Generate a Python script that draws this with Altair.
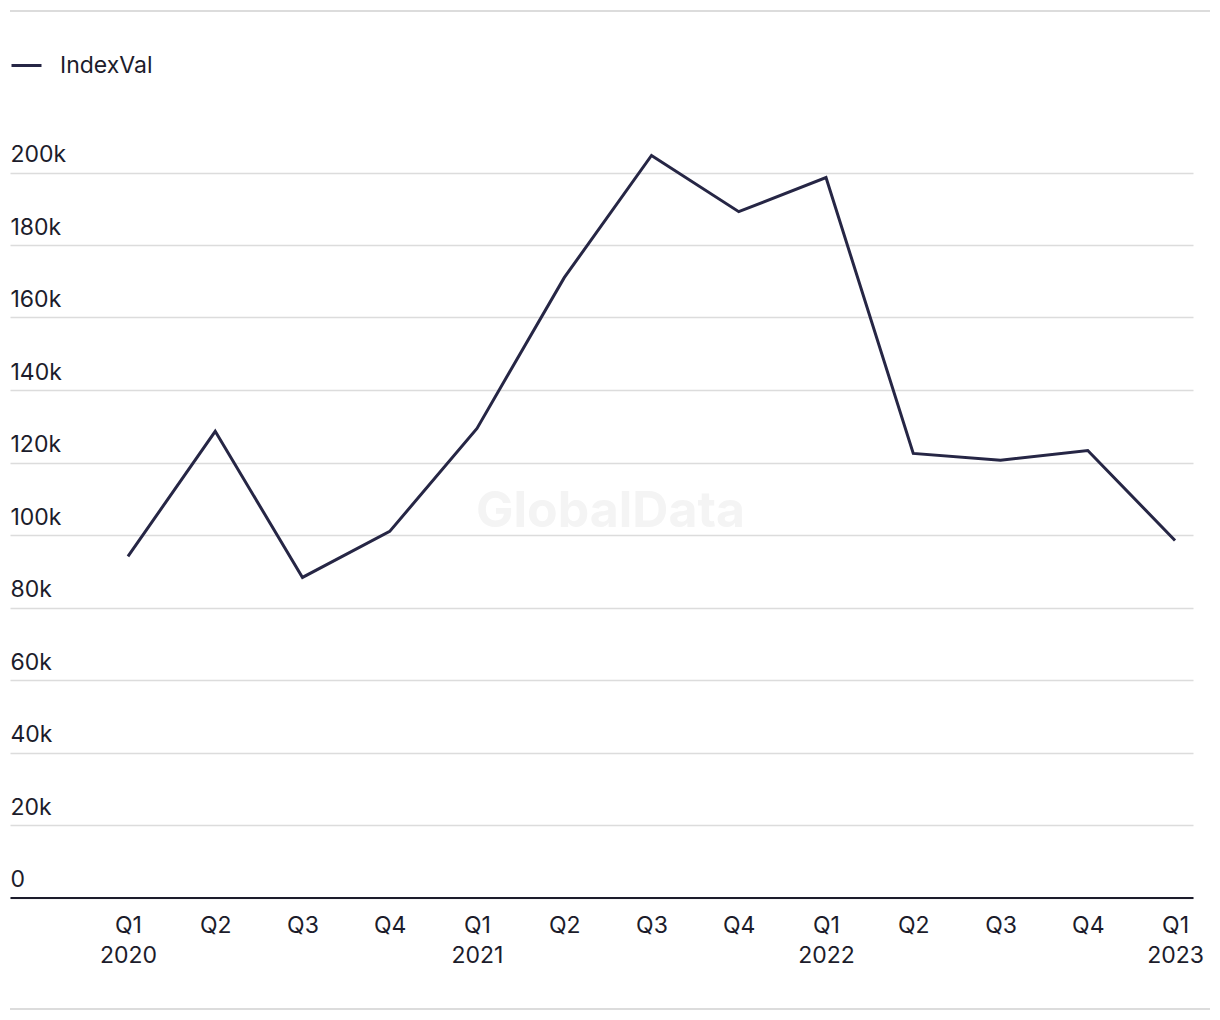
import altair as alt
import pandas as pd

quarters = ["Q1", "Q2", "Q3", "Q4", "Q1", "Q2", "Q3", "Q4", "Q1", "Q2", "Q3", "Q4", "Q1"]
years = ["2020", "", "", "", "2021", "", "", "", "2022", "", "", "", "2023"]
values = [94100, 128600, 88300, 101000, 129400, 171000, 204700, 189200, 198600,
          122500, 120600, 123300, 98500]
series_name = "IndexVal"
y_ticks = [0, 20000, 40000, 60000, 80000, 100000, 120000, 140000, 160000, 180000, 200000]

df = pd.DataFrame({
    "idx": list(range(len(values))),
    "quarter": quarters,
    "year": years,
    "value": values,
    "series": [series_name] * len(values),
})

label_items = []
for q, y in zip(quarters, years):
    if y:
        label_items.append("['%s','%s']" % (q, y))
    else:
        label_items.append("'%s'" % q)
label_expr = "[" + ",".join(label_items) + "][datum.value]"

FONT = "Inter"
FS = 23
TEXT = "#1c1c2b"
LINE = "#262645"
GRID = "#dcdcdc"

W = 1183
H = 797.5

x_enc = alt.X(
    "idx:Q",
    scale=alt.Scale(domain=[-1.352, 12.206], nice=False, zero=False),
    axis=alt.Axis(
        values=list(range(len(values))),
        labelExpr=label_expr,
        title=None,
        grid=False,
        ticks=False,
        domain=True,
        domainColor=TEXT,
        domainWidth=2,
        labelFont=FONT,
        labelFontSize=FS,
        labelColor=TEXT,
        labelPadding=17,
        labelBaseline="top",
        labelLineHeight=30,
        labelFlush=False,
        labelOverlap=False,
    ),
)

y_enc = alt.Y(
    "value:Q",
    scale=alt.Scale(domain=[0, 220000], nice=False),
    axis=alt.Axis(
        values=y_ticks,
        labelExpr="datum.value == 0 ? '0' : (datum.value / 1000) + 'k'",
        title=None,
        grid=True,
        gridColor=GRID,
        gridWidth=1.5,
        ticks=False,
        tickSize=0,
        domain=False,
        labelAlign="left",
        labelBaseline="alphabetic",
        labelPadding=0,
        labelOffset=-11,
        labelFont=FONT,
        labelFontSize=FS,
        labelColor=TEXT,
    ),
)

watermark = alt.Chart(pd.DataFrame({"t": ["GlobalData"]})).mark_text(
    font=FONT, fontSize=50, fontWeight="bold", color="#f4f4f4",
    align="center", baseline="middle",
).encode(text="t:N", x=alt.value(600.5), y=alt.value(412))

line = alt.Chart(df).mark_line(strokeWidth=3, strokeJoin="miter").encode(
    x=x_enc,
    y=y_enc,
    color=alt.Color(
        "series:N",
        scale=alt.Scale(domain=[series_name], range=[LINE]),
        legend=alt.Legend(
            title=None,
            orient="none",
            legendX=0,
            legendY=-51,
            symbolType="stroke",
            symbolSize=900,
            symbolStrokeWidth=3,
            labelFont=FONT,
            labelFontSize=FS,
            labelColor=TEXT,
            labelOffset=17,
        ),
    ),
)

top_rule = alt.Chart(pd.DataFrame({"a": [0]})).mark_rule(color=GRID, strokeWidth=2).encode(
    x=alt.value(0), x2=alt.value(1200), y=alt.value(-89)
)
bottom_rule = alt.Chart(pd.DataFrame({"a": [0]})).mark_rule(color=GRID, strokeWidth=2).encode(
    x=alt.value(0), x2=alt.value(1200), y=alt.value(1009 - 100)
)

chart = alt.layer(watermark, line, top_rule, bottom_rule).properties(
    width=W,
    height=H,
    background="white",
    autosize=alt.AutoSizeParams(type="none"),
    padding={"left": 10, "top": 100, "right": 27, "bottom": 122.5},
).configure_view(strokeWidth=0, stroke="transparent")

chart.save("out.html", embed_options={"renderer": "svg", "actions": False})
